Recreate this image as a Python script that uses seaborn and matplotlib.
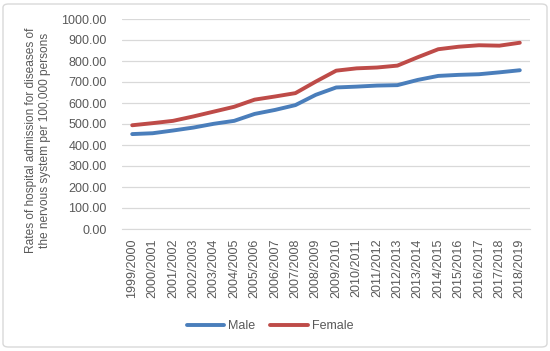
import pandas as pd
import numpy as np
import matplotlib
matplotlib.use("Agg")
import matplotlib.pyplot as plt
import seaborn as sns
from matplotlib.patches import FancyBboxPatch

years = ["1999/2000", "2000/2001", "2001/2002", "2002/2003", "2003/2004",
         "2004/2005", "2005/2006", "2006/2007", "2007/2008", "2008/2009",
         "2009/2010", "2010/2011", "2011/2012", "2012/2013", "2013/2014",
         "2014/2015", "2015/2016", "2016/2017", "2017/2018", "2018/2019"]
male = [452, 456, 469, 483, 501, 515, 548, 567, 590, 639,
        674, 678, 683, 685, 710, 729, 734, 737, 746, 756]
female = [494, 504, 515, 536, 559, 582, 616, 631, 647, 702,
          754, 765, 769, 778, 818, 856, 868, 875, 873, 887]

df = pd.DataFrame({
    "period": years * 2,
    "x": list(range(len(years))) * 2,
    "rate": male + female,
    "sex": ["Male"] * len(years) + ["Female"] * len(years),
})

sns.set_style("white")
plt.rcParams["font.family"] = ["Liberation Sans", "DejaVu Sans"]

fig = plt.figure(figsize=(5.5, 3.51), dpi=100)
ax = fig.add_axes([122 / 550, 1 - 229 / 351, (530 - 122) / 550, (229 - 19) / 351])

sns.lineplot(data=df, x="x", y="rate", hue="sex",
             palette={"Male": "#4A7EBB", "Female": "#BE4B48"},
             linewidth=2.8, ax=ax, legend=False)

ax.set_xlim(-0.5, len(years) - 0.5)
ax.set_ylim(0, 1000)
ax.set_yticks(np.arange(0, 1001, 100))
ax.set_yticklabels([f"{v:.2f}" for v in np.arange(0, 1001, 100)])
ax.set_xticks(range(len(years)))
ax.set_xticklabels(years, rotation=90)
ax.tick_params(axis="both", labelsize=9, colors="#595959", length=0)
ax.tick_params(axis="y", pad=11)
ax.tick_params(axis="x", pad=7)
ax.grid(axis="y", color="#D9D9D9", linewidth=0.9)
for s in ["top", "right", "left"]:
    ax.spines[s].set_visible(False)
ax.spines["bottom"].set_color("#D9D9D9")
ax.set_xlabel("")
ax.set_ylabel("Rates of hospital admission for diseases of\nthe nervous system per 100,000 persons",
              fontsize=8.6, color="#595959", labelpad=10, linespacing=1.15)
ax.yaxis.set_label_coords(-0.175, 0.42)

handles = [plt.Line2D([], [], color="#4A7EBB", lw=2.8),
           plt.Line2D([], [], color="#BE4B48", lw=2.8)]
fig.legend(handles, ["Male", "Female"], loc="center", bbox_to_anchor=(270 / 550, 1 - 326 / 351),
           ncol=2, frameon=False, fontsize=9, handlelength=3, columnspacing=1.2,
           handletextpad=0.3, labelcolor="#595959")

border = FancyBboxPatch((3 / 550, 4 / 351), 544 / 550, 343 / 351,
                        boxstyle="round,pad=0,rounding_size=0.01",
                        transform=fig.transFigure, fill=False,
                        edgecolor="#D9D9D9", linewidth=1)
fig.patches.append(border)

fig.savefig("out.png", dpi=100)
